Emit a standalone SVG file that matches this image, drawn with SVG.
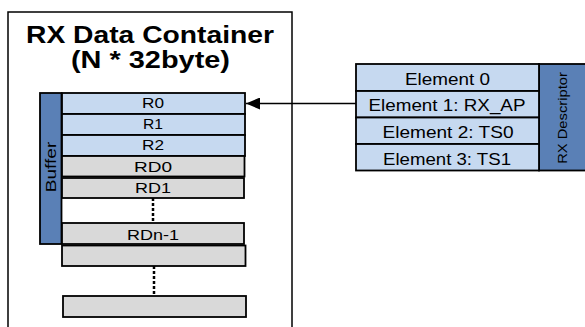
<svg xmlns="http://www.w3.org/2000/svg" width="585" height="327" viewBox="0 0 585 327">
<defs>
<style>
.lb{fill:#C6D9F0;stroke:#000;stroke-width:1.8}
.gr{fill:#D9D9D9;stroke:#000;stroke-width:1.8}
.db{fill:#5A80B6;stroke:#000;stroke-width:1.8}
.t{font-family:"Liberation Sans",Arial,sans-serif;fill:#000;text-anchor:middle}
.dot{stroke:#000;stroke-width:2.5;stroke-dasharray:3 2;fill:none}
</style>
<marker id="ah" viewBox="0 0 14 12" refX="14" refY="6" markerWidth="14" markerHeight="12" markerUnits="userSpaceOnUse" orient="auto">
<path d="M0,0 L14,6 L0,12 Z" fill="#000"/>
</marker>
</defs>
<rect width="585" height="327" fill="#fff"/>
<g id="container">
<rect x="8" y="12" width="284" height="330" fill="none" stroke="#000" stroke-width="1.5"/>
<text class="t" x="150" y="43" font-size="24" font-weight="bold" textLength="248" lengthAdjust="spacingAndGlyphs">RX Data Container</text>
<text class="t" x="150.5" y="68" font-size="24" font-weight="bold" textLength="159" lengthAdjust="spacingAndGlyphs">(N * 32byte)</text>
</g>
<g id="buffer">
<rect class="db" x="40" y="93" width="21.5" height="151"/>
<text class="t" transform="translate(55.7,167) rotate(-90)" font-size="15" textLength="50.6" lengthAdjust="spacingAndGlyphs">Buffer</text>
</g>
<g id="r0"><rect class="lb" x="62" y="93" width="183" height="21"/><text class="t" x="153" y="108" font-size="15.5" textLength="22" lengthAdjust="spacingAndGlyphs">R0</text></g>
<g id="r1"><rect class="lb" x="62" y="114" width="183" height="21"/><text class="t" x="153" y="129" font-size="15.5" textLength="20" lengthAdjust="spacingAndGlyphs">R1</text></g>
<g id="r2"><rect class="lb" x="62" y="135" width="183" height="21"/><text class="t" x="153" y="150" font-size="15.5" textLength="22" lengthAdjust="spacingAndGlyphs">R2</text></g>
<g id="rd0"><rect class="gr" x="62" y="156" width="182.5" height="20.5"/><text class="t" x="153" y="171.5" font-size="15.5" textLength="38" lengthAdjust="spacingAndGlyphs">RD0</text></g>
<g id="rd1"><rect class="gr" x="62" y="178" width="182" height="20"/><text class="t" x="153" y="193" font-size="15.5" textLength="36" lengthAdjust="spacingAndGlyphs">RD1</text></g>
<g id="rdn1"><rect class="gr" x="62" y="223" width="182" height="21"/><text class="t" x="153" y="240" font-size="15.5" textLength="52" lengthAdjust="spacingAndGlyphs">RDn-1</text></g>
<g id="slot-a"><rect class="gr" x="62" y="245.5" width="183.5" height="20.5"/></g>
<g id="slot-b"><rect class="gr" x="63" y="296" width="183" height="21"/></g>
<g id="rx-descriptor">
<rect class="db" x="539" y="64" width="52" height="106.5"/>
<text class="t" transform="translate(566.7,118) rotate(-90)" font-size="12" textLength="91.7" lengthAdjust="spacingAndGlyphs">RX Descriptor</text>
</g>
<g id="element0"><rect class="lb" x="356" y="64" width="183" height="27"/><text class="t" x="447.5" y="84.5" font-size="17" textLength="85" lengthAdjust="spacingAndGlyphs">Element 0</text></g>
<g id="element1"><rect class="lb" x="356" y="91" width="183" height="26.5"/><text class="t" x="447" y="110.5" font-size="17" textLength="157" lengthAdjust="spacingAndGlyphs">Element 1: RX_AP</text></g>
<g id="element2"><rect class="lb" x="356" y="117.5" width="183" height="26.5"/><text class="t" x="448" y="138" font-size="17" textLength="131" lengthAdjust="spacingAndGlyphs">Element 2: TS0</text></g>
<g id="element3"><rect class="lb" x="356" y="144" width="183" height="26.5"/><text class="t" x="447" y="164.5" font-size="17" textLength="128" lengthAdjust="spacingAndGlyphs">Element 3: TS1</text></g>
<g id="connectors">
<line x1="356" y1="103.5" x2="246" y2="103.5" stroke="#000" stroke-width="1.6" marker-end="url(#ah)"/>
<line class="dot" x1="153" y1="198" x2="153" y2="223"/>
<line class="dot" x1="154" y1="266" x2="154" y2="296"/>
</g>
</svg>
